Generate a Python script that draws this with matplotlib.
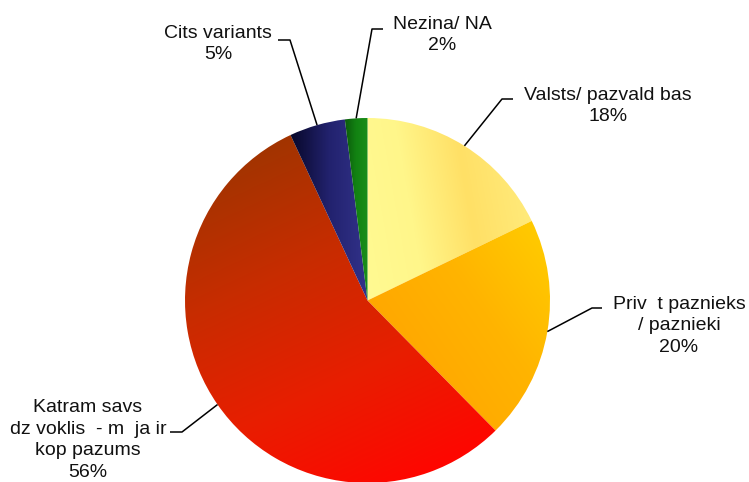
import numpy as np
import matplotlib.pyplot as plt
from matplotlib.colors import LinearSegmentedColormap

# ----------------------------- DATA ----------------------------- #
labels = ['Valsts/ pazvald bas',
          'Priv  t paznieks\n/ paznieki',
          'Katram savs\ndz voklis  - m  ja ir\nkop pazums',
          'Cits variants',
          'Nezina/ NA']
values = [18, 20, 56, 5, 2]
pct_labels = ['18%', '20%', '56%', '5%', '2%']
# ---------------------------------------------------------------- #

# gradient fill per slice: (direction in degrees, colour stops)
gradients = [
    (10, ['#FFFA92', '#FFF68A', '#FFE066', '#FFEA7A']),
    (35, ['#FFA800', '#FFB400', '#FFCA00']),
    (-65, ['#A23400', '#C82C00', '#E81E00', '#FF0600']),
    (0, ['#08082A', '#22226E', '#32328A']),
    (0, ['#0C5A0C', '#128212', '#1A8E1A']),
]

# label layout in pixels from the top left: text centre, elbow, line end
label_pos = [
    (608, 106, 502, 99, 513),
    (679, 326, 592, 308, 602),
    (88, 440, 182, 432, 170),
    (218, 44, 290, 40, 278),
    (442, 35, 372, 29, 383),
]

W, H = 749, 482
cx, cy, r = 367.5, H - 300.5, 182.5

fig = plt.figure(figsize=(W / 100, H / 100), dpi=100)
ax = fig.add_axes([0, 0, 1, 1])

wedges, _ = ax.pie(values, startangle=90, counterclock=False,
                   center=(cx, cy), radius=r,
                   wedgeprops=dict(linewidth=0))

n = 400
xs = np.linspace(cx - r, cx + r, n)
ys = np.linspace(cy - r, cy + r, n)
X, Y = np.meshgrid(xs, ys)

for w, (ang, cols) in zip(wedges, gradients):
    a = np.deg2rad(ang)
    t = X * np.cos(a) + Y * np.sin(a)
    verts = w.get_path().vertices
    tv = verts[:, 0] * np.cos(a) + verts[:, 1] * np.sin(a)
    cmap = LinearSegmentedColormap.from_list('g', cols)
    im = ax.imshow(t, cmap=cmap, vmin=tv.min(), vmax=tv.max(),
                   extent=(cx - r, cx + r, cy - r, cy + r),
                   origin='lower', interpolation='bilinear', zorder=1)
    im.set_clip_path(w)
    w.set_facecolor('none')

# labels with leader lines from the middle of each slice edge
for w, lab, pct, (tx, ty, ex, ey, lx) in zip(wedges, labels, pct_labels, label_pos):
    mid = np.deg2rad((w.theta1 + w.theta2) / 2)
    px, py = cx + r * np.cos(mid), cy + r * np.sin(mid)
    ax.plot([px, ex, lx], [py, H - ey, H - ey], color='black', lw=1.1,
            zorder=3, solid_capstyle='butt')
    ax.text(tx, H - ty, lab + '\n' + pct, ha='center', va='center',
            multialignment='center', fontsize=14, linespacing=1.34,
            family='Liberation Sans', color='#111111', zorder=4)

ax.set_xlim(0, W)
ax.set_ylim(0, H)
ax.set_aspect('equal')
ax.axis('off')

fig.savefig('out.png', dpi=100)
